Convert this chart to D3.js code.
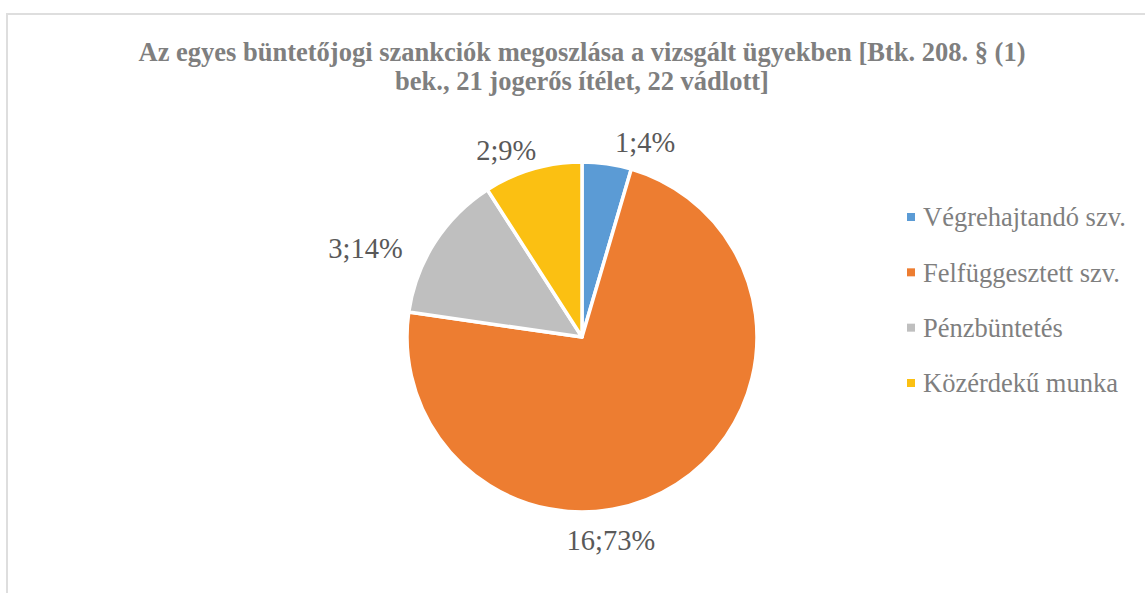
<!DOCTYPE html>
<html>
<head>
<meta charset="utf-8">
<script src="https://cdn.jsdelivr.net/npm/d3@7"></script>
<style>
  body { margin: 0; background: #fff; }
  svg { display: block; }
  text { font-family: 'Liberation Serif'; }
</style>
</head>
<body>
<div id="chart"></div>
<script>
// data
const categories = ["Végrehajtandó szv.", "Felfüggesztett szv.", "Pénzbüntetés", "Közérdekű munka"];
const counts = [1, 16, 3, 2];
const percentLabels = ["4%", "73%", "14%", "9%"];
const titleLines = [
    "Az egyes büntetőjogi szankciók megoszlása a vizsgált ügyekben [Btk. 208. § (1)",
    "bek., 21 jogerős ítélet, 22 vádlott]"
];

const sliceColors = ["#5B9BD5", "#ED7D31", "#BFBFBF", "#FBC012"];

const width = 1145, height = 593;
const cx = 582, cy = 337, radius = 175;

const svg = d3.select("#chart")
    .append("svg")
    .attr("width", width)
    .attr("height", height);

// chart area border (runs off the right and bottom edge)
svg.append("rect")
    .attr("x", 7)
    .attr("y", 14)
    .attr("width", width + 20)
    .attr("height", height + 20)
    .style("fill", "none")
    .style("stroke", "#dedede")
    .style("stroke-width", 2);

// title
svg.append("g")
    .selectAll("text")
    .data(titleLines)
    .join("text")
    .attr("x", 582)
    .attr("y", (d, i) => 61 + i * 29)
    .attr("text-anchor", "middle")
    .style("font-weight", "bold")
    .style("font-size", "26.5px")
    .style("fill", "#7f7f7f")
    .text(d => d);

// pie, starting at 12 o'clock, in data order
const pie = d3.pie().sort(null).value(d => d);
const arcs = pie(counts);

const arc = d3.arc().innerRadius(0).outerRadius(radius);
const labelArc = d3.arc().innerRadius(205).outerRadius(205);

const g = svg.append("g")
    .attr("transform", "translate(" + cx + "," + cy + ")");

g.selectAll("path")
    .data(arcs)
    .join("path")
    .attr("d", arc)
    .style("fill", (d, i) => sliceColors[i])
    .style("stroke", "#fff")
    .style("stroke-width", 3.5)
    .style("stroke-linejoin", "round");

// excel "best fit" moves the labels a bit off the mid angle
const labelNudge = [[34, 8], [-82, 31], [-44, 22], [-18, 10]];

g.selectAll("text.label")
    .data(arcs)
    .join("text")
    .attr("class", "label")
    .attr("transform", (d, i) => {
        const c = labelArc.centroid(d);
        return "translate(" + (c[0] + labelNudge[i][0]) + "," + (c[1] + labelNudge[i][1]) + ")";
    })
    .attr("dy", "0.35em")
    .attr("text-anchor", "middle")
    .style("font-size", "28.5px")
    .style("fill", "#595959")
    .text((d, i) => counts[i] + ";" + percentLabels[i]);

// legend
const legendY = d3.scalePoint()
    .domain(categories)
    .range([217, 383]);

const legend = svg.append("g")
    .selectAll("g")
    .data(categories)
    .join("g")
    .attr("transform", d => "translate(907," + legendY(d) + ")");

legend.append("rect")
    .attr("x", 0)
    .attr("y", -4)
    .attr("width", 8)
    .attr("height", 8)
    .style("fill", (d, i) => sliceColors[i]);

legend.append("text")
    .attr("x", 16)
    .attr("dy", "0.35em")
    .style("font-size", "26.5px")
    .style("fill", "#7f7f7f")
    .text(d => d);
</script>
</body>
</html>
